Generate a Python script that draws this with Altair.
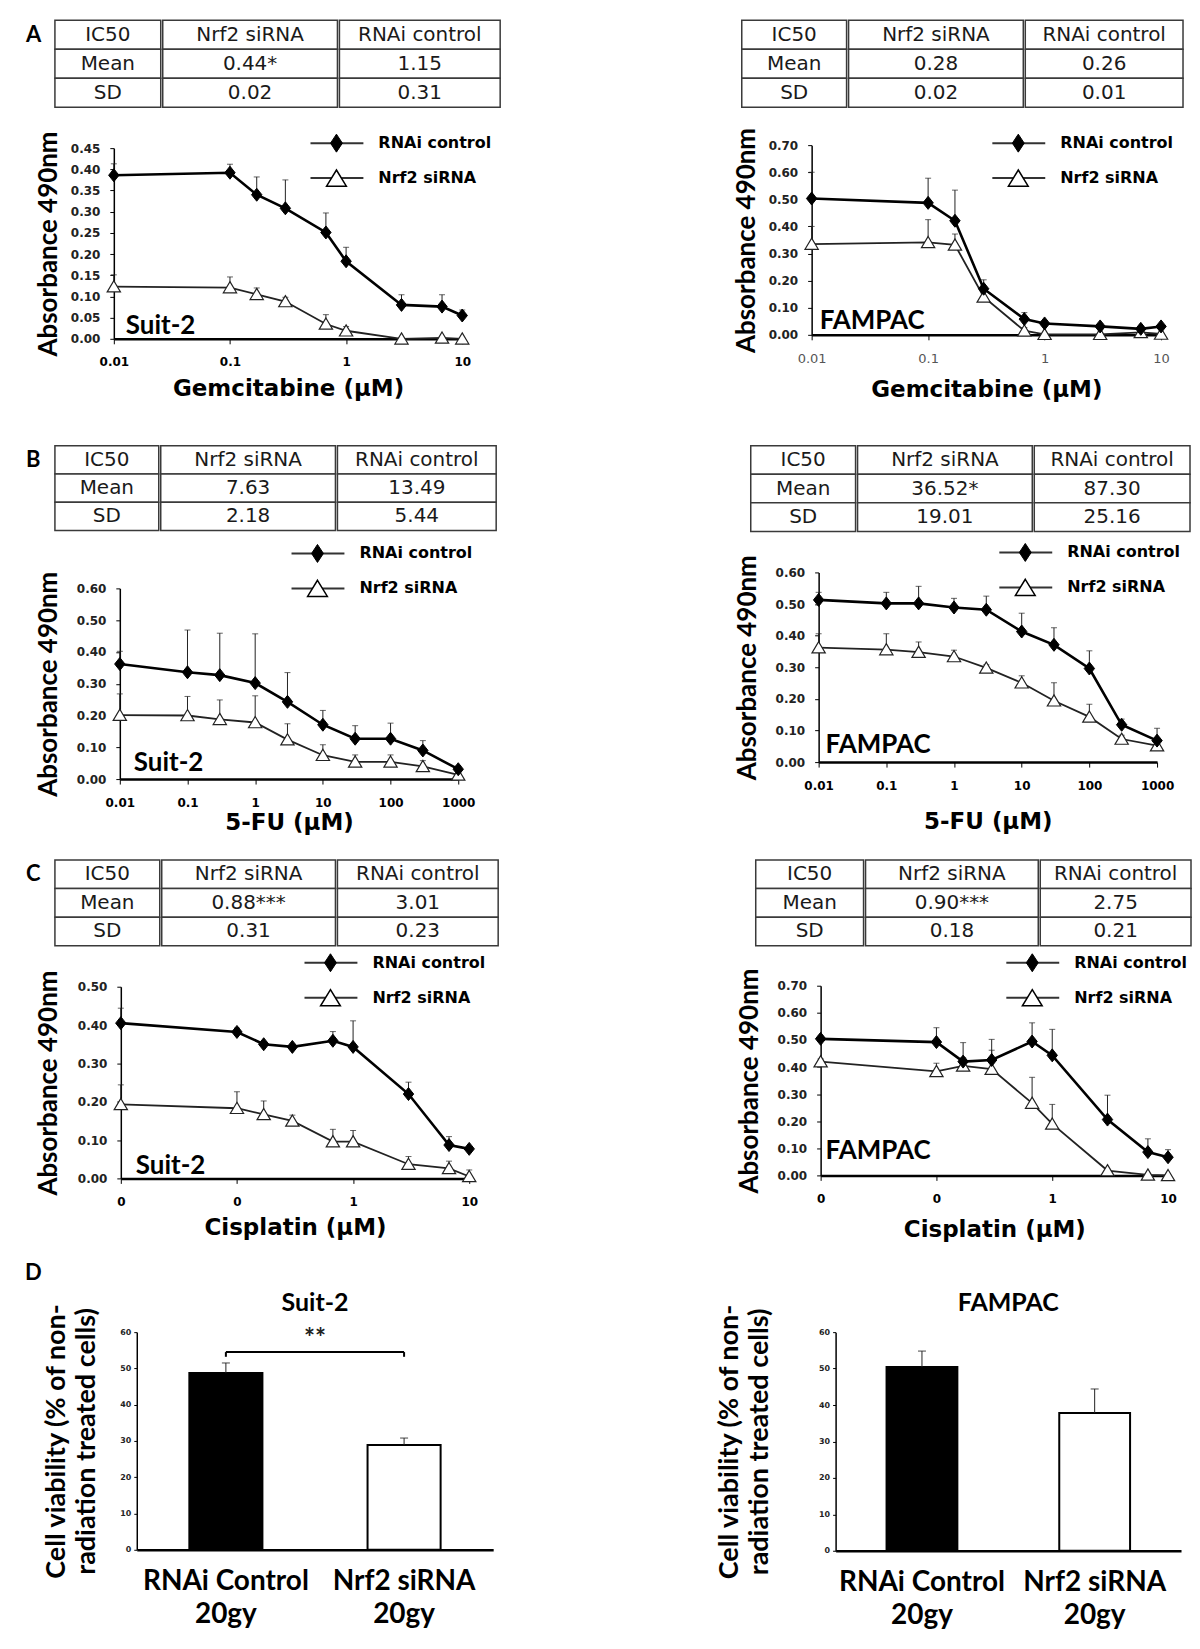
import altair as alt
import pandas as pd

SERIES = ["RNAi control", "Nrf2 siRNA"]
TABLE_HEADER = ["IC50", "Nrf2 siRNA", "RNAi control"]
TABLE_ROWS = ["Mean", "SD"]

# ---------------- doses and tick labels ----------------
gem_doses = [0.01, 0.1, 0.17, 0.3, 0.67, 1, 3, 6.7, 10]
fu_doses = [0.01, 0.1, 0.3, 1, 3, 10, 30, 100, 300, 1000]
cis_doses = [0.01, 0.1, 0.17, 0.3, 0.67, 1, 3, 6.7, 10]
gem_ticks = [0.01, 0.1, 1, 10]
fu_ticks = [0.01, 0.1, 1, 10, 100, 1000]
cis_ticks = [0.01, 0.1, 1, 10]
y_ticks_045 = [0, 0.05, 0.10, 0.15, 0.20, 0.25, 0.30, 0.35, 0.40, 0.45]
y_ticks_070 = [0, 0.10, 0.20, 0.30, 0.40, 0.50, 0.60, 0.70]
y_ticks_060 = [0, 0.10, 0.20, 0.30, 0.40, 0.50, 0.60]
y_ticks_050 = [0, 0.10, 0.20, 0.30, 0.40, 0.50]
bar_ticks = [0, 10, 20, 30, 40, 50, 60]

# ---------------- IC50 tables ----------------
a_suit_ic50_nrf2 = ["0.44*", "0.02"]
a_suit_ic50_rnai = ["1.15", "0.31"]
a_fam_ic50_nrf2 = ["0.28", "0.02"]
a_fam_ic50_rnai = ["0.26", "0.01"]
b_suit_ic50_nrf2 = ["7.63", "2.18"]
b_suit_ic50_rnai = ["13.49", "5.44"]
b_fam_ic50_nrf2 = ["36.52*", "19.01"]
b_fam_ic50_rnai = ["87.30", "25.16"]
c_suit_ic50_nrf2 = ["0.88***", "0.31"]
c_suit_ic50_rnai = ["3.01", "0.23"]
c_fam_ic50_nrf2 = ["0.90***", "0.18"]
c_fam_ic50_rnai = ["2.75", "0.21"]

# ---------------- A: Gemcitabine ----------------
a_suit_rnai = [0.386, 0.392, 0.340, 0.308, 0.251, 0.183, 0.080, 0.076, 0.055]
a_suit_rnai_sd = [0.027, 0.020, 0.042, 0.067, 0.046, 0.033, 0.024, 0.028, 0.013]
a_suit_nrf2 = [0.123, 0.121, 0.105, 0.088, 0.035, 0.019, 0.000, 0.002, 0.000]
a_suit_nrf2_sd = [0.028, 0.025, 0.015, 0.010, 0.022, 0.010, 0.0, 0.0, 0.0]

a_fam_rnai = [0.503, 0.487, 0.421, 0.170, 0.058, 0.042, 0.031, 0.022, 0.031]
a_fam_rnai_sd = [0.097, 0.091, 0.113, 0.033, 0.024, 0.010, 0.011, 0.009, 0.008]
a_fam_nrf2 = [0.335, 0.341, 0.332, 0.140, 0.015, 0.002, 0.002, 0.009, 0.003]
a_fam_nrf2_sd = [0.065, 0.084, 0.040, 0.030, 0.012, 0.0, 0.0, 0.005, 0.0]

# ---------------- B: 5-FU ----------------
b_suit_rnai = [0.362, 0.336, 0.327, 0.302, 0.243, 0.171, 0.127, 0.127, 0.090, 0.031]
b_suit_rnai_sd = [0.040, 0.133, 0.132, 0.155, 0.092, 0.045, 0.041, 0.049, 0.031, 0.010]
b_suit_nrf2 = [0.201, 0.200, 0.188, 0.178, 0.124, 0.075, 0.054, 0.054, 0.040, 0.013]
b_suit_nrf2_sd = [0.067, 0.060, 0.061, 0.084, 0.050, 0.033, 0.022, 0.022, 0.018, 0.010]

b_fam_rnai = [0.513, 0.502, 0.502, 0.489, 0.482, 0.413, 0.371, 0.296, 0.118, 0.068]
b_fam_rnai_sd = [0.024, 0.035, 0.054, 0.029, 0.043, 0.058, 0.054, 0.056, 0.018, 0.039]
b_fam_nrf2 = [0.362, 0.356, 0.348, 0.334, 0.298, 0.251, 0.194, 0.143, 0.073, 0.052]
b_fam_nrf2_sd = [0.044, 0.050, 0.032, 0.020, 0.010, 0.022, 0.057, 0.040, 0.012, 0.012]

# ---------------- C: Cisplatin ----------------
c_suit_rnai = [0.405, 0.382, 0.350, 0.343, 0.359, 0.343, 0.220, 0.087, 0.077]
c_suit_rnai_sd = [0.039, 0.010, 0.007, 0.007, 0.024, 0.068, 0.031, 0.022, 0.006]
c_suit_nrf2 = [0.193, 0.183, 0.167, 0.150, 0.096, 0.096, 0.037, 0.026, 0.005]
c_suit_nrf2_sd = [0.051, 0.043, 0.035, 0.015, 0.032, 0.029, 0.020, 0.019, 0.017]

c_fam_rnai = [0.504, 0.492, 0.420, 0.426, 0.494, 0.443, 0.206, 0.086, 0.067]
c_fam_rnai_sd = [0.010, 0.053, 0.070, 0.076, 0.069, 0.096, 0.090, 0.049, 0.028]
c_fam_nrf2 = [0.420, 0.384, 0.404, 0.392, 0.267, 0.190, 0.018, 0.002, 0.000]
c_fam_nrf2_sd = [0.010, 0.030, 0.030, 0.070, 0.095, 0.072, 0.0, 0.0, 0.0]

# ---------------- D: radiation ----------------
d_suit_cats = ["RNAi Control\n20gy", "Nrf2  siRNA\n20gy"]
d_suit_vals = [48.7, 28.9]
d_suit_sd = [2.8, 1.9]
d_suit_bracket = 54.5
d_suit_bracket_end = 53.2
d_suit_star = 58.0
d_fam_cats = ["RNAi Control\n20gy", "Nrf2 siRNA\n20gy"]
d_fam_vals = [50.4, 37.8]
d_fam_sd = [4.4, 6.6]

BAR_TITLE = ["Cell viability (% of non-", "radiation treated cells)"]

# ---------------- marker shapes ----------------
DIAMOND = "M0,-1L0.8,0L0,1L-0.8,0Z"
TRIANGLE = "M0,-0.85L0.95,0.75L-0.95,0.75Z"
LEG_DIAMOND = "M0,-1L0.66,0L0,1L-0.66,0Z"
LEG_TRIANGLE = "M0,-0.9L1.1,0.9L-1.1,0.9Z"


def H(*charts, spacing=0):
    return alt.hconcat(*charts, spacing=spacing).resolve_scale(
        fill="independent", shape="independent")


def V(*charts, spacing=0):
    return alt.vconcat(*charts, spacing=spacing).resolve_scale(
        fill="independent", shape="independent")


def spacer(w, h=1):
    return alt.Chart(pd.DataFrame({"t": [" "]})).mark_text(fontSize=1).encode(
        text="t:N", x=alt.value(0), y=alt.value(h)
    ).properties(width=w, height=h)


def ic50_table(nrf2_vals, rnai_vals, col_w, height, lead_w, letter=" "):
    row_ids = ["h", "m", "s"]
    yscale = alt.Scale(domain=row_ids, paddingInner=0, paddingOuter=0)
    lead = alt.Chart(pd.DataFrame({"row": ["h"], "t": [letter]})).mark_text(
        align="left", baseline="middle", font="Lato", fontWeight="bold",
        fontSize=22, color="black"
    ).encode(
        y=alt.Y("row:N", scale=yscale, axis=None), x=alt.value(1), text="t:N"
    ).properties(width=lead_w, height=height)
    parts = [lead]
    columns = [
        [TABLE_HEADER[0]] + TABLE_ROWS,
        [TABLE_HEADER[1]] + list(nrf2_vals),
        [TABLE_HEADER[2]] + list(rnai_vals),
    ]
    for texts, w in zip(columns, col_w):
        df = pd.DataFrame({"row": row_ids, "t": texts})
        base = alt.Chart(df).encode(y=alt.Y("row:N", scale=yscale, axis=None))
        cell = base.mark_rect(fill="white", stroke="#3a3a3a", strokeWidth=1.5).encode(
            x=alt.value(0), x2=alt.value(w)
        )
        txt = base.mark_text(
            font="DejaVu Sans", fontSize=20, color="#1a1a1a", baseline="middle"
        ).encode(x=alt.value(w / 2), text="t:N")
        parts.append(alt.layer(cell, txt).properties(width=w, height=height))
    return H(*parts, spacing=0)


def curve(doses, rnai, rnai_sd, nrf2, nrf2_sd, cfg):
    recs = []
    for s, m, sd in ((SERIES[0], rnai, rnai_sd), (SERIES[1], nrf2, nrf2_sd)):
        for d, v, e in zip(doses, m, sd):
            recs.append({"series": s, "dose": d, "mean": v, "sd": e, "top": v + e})
    df = pd.DataFrame(recs)
    w, h = cfg["w"], cfg["h"]
    xscale = alt.Scale(type="log", domain=[doses[0], doses[-1]], nice=False)
    xaxis = alt.Axis(
        values=cfg["xticks"], format=cfg["xfmt"], title=cfg["xtitle"],
        labelFont="DejaVu Sans", labelFontWeight=cfg.get("xlw", "bold"),
        labelFontSize=cfg.get("xls", 12), labelColor=cfg.get("xlc", "black"),
        labelPadding=13, tickSize=5, tickColor="black", domainColor="black",
        domainWidth=2.5, titleFont="DejaVu Sans", titleFontWeight="bold",
        titleFontSize=23, titleColor="black", titlePadding=cfg["xtp"], grid=False,
        labelFlush=False, labelOverlap=False,
    )
    yscale = alt.Scale(domain=[0, cfg["ymax"]], nice=False, zero=True)
    yaxis = alt.Axis(
        values=cfg["yticks"], format=".2f", title="Absorbance 490nm",
        labelFont="DejaVu Sans", labelFontWeight="bold", labelFontSize=12,
        labelColor="#222", labelPadding=10, tickSize=4, tickColor="black",
        domainColor="black", domainWidth=1.5, titleFont="Lato",
        titleFontWeight="bold", titleFontSize=26, titleColor="black",
        titlePadding=cfg["ytp"], grid=False, labelFlush=False,
    )
    X = alt.X("dose:Q", scale=xscale, axis=xaxis)
    Y = alt.Y("mean:Q", scale=yscale, axis=yaxis)
    Ytop = alt.Y("top:Q", scale=yscale, axis=yaxis)
    base = alt.Chart(df)
    errs = base.transform_filter("datum.sd > 0")
    err = errs.mark_rule(color="#222", strokeWidth=1).encode(x=X, y=Y, y2="top:Q")
    cap = errs.mark_tick(orient="horizontal", color="#222", size=6, thickness=1).encode(x=X, y=Ytop)
    line_r = base.transform_filter(alt.datum.series == SERIES[0]).mark_line(
        color="black", strokeWidth=2.6).encode(x=X, y=Y)
    line_n = base.transform_filter(alt.datum.series == SERIES[1]).mark_line(
        color="#222", strokeWidth=1.8).encode(x=X, y=Y)
    pts_r = base.transform_filter(alt.datum.series == SERIES[0]).mark_point(
        shape=DIAMOND, filled=True, fill="black", stroke="black", strokeWidth=1,
        size=169, opacity=1).encode(x=X, y=Y)
    pts_n = base.transform_filter(alt.datum.series == SERIES[1]).mark_point(
        shape=TRIANGLE, filled=True, fill="white", stroke="#222", strokeWidth=1.2,
        size=196, opacity=1).encode(x=X, y=Y)
    main = alt.layer(err, cap, line_n, line_r, pts_n, pts_r)

    # legend drawn as marks: rows placed by a point scale on the series names
    lx, ly = cfg["legx"], cfg["legy"]
    legdf = pd.DataFrame({"series": SERIES})
    LY = alt.Y("series:N", scale=alt.Scale(type="point", domain=SERIES, range=[ly, ly + 35], padding=0), axis=None)
    lbase = alt.Chart(legdf)
    l_line = lbase.mark_rule(color="#333", strokeWidth=2).encode(
        x=alt.value(lx), x2=alt.value(lx + 53), y=LY)
    l_r = lbase.transform_filter(alt.datum.series == SERIES[0]).mark_point(
        shape=LEG_DIAMOND, filled=True, fill="black", stroke="black", strokeWidth=1,
        size=324, opacity=1).encode(x=alt.value(lx + 26), y=LY)
    l_n = lbase.transform_filter(alt.datum.series == SERIES[1]).mark_point(
        shape=LEG_TRIANGLE, filled=True, fill="white", stroke="black", strokeWidth=1.5,
        size=324, opacity=1).encode(x=alt.value(lx + 26), y=LY)
    l_t = lbase.mark_text(
        align="left", baseline="middle", font="DejaVu Sans", fontWeight="bold",
        fontSize=16, color="black").encode(x=alt.value(lx + 68), y=LY, text="series:N")
    legend = alt.layer(l_line, l_r, l_n, l_t)

    lab = alt.Chart(pd.DataFrame({"t": [cfg["cell"]]})).mark_text(
        align="left", baseline="middle", font="Lato", fontWeight="bold",
        fontSize=26, color="black"
    ).encode(text="t:N", x=alt.value(cfg["lx"]), y=alt.value(h - cfg["ly"]))
    return alt.layer(main, legend, lab).resolve_scale(y="independent").properties(
        width=w, height=h)


def bars(cats, vals, sds, cfg, bracket=None):
    df = pd.DataFrame({"cat": cats, "val": vals, "sd": sds})
    df["top"] = df["val"] + df["sd"]
    pin, pout = 0.59, 0.295
    xscale = alt.Scale(domain=cats, paddingInner=pin, paddingOuter=pout)
    xaxis = alt.Axis(
        title=None, labelAngle=0, labelExpr="split(datum.label, '\\n')",
        labelFont="Lato", labelFontWeight="bold", labelFontSize=28,
        labelColor="black", labelLineHeight=33, labelPadding=cfg["xlp"],
        ticks=False, domainColor="black", domainWidth=2.5, labelLimit=300,
    )
    yscale = alt.Scale(domain=[0, 60], nice=False)
    yaxis = alt.Axis(
        values=bar_ticks, format="d", title=BAR_TITLE, labelFont="DejaVu Sans",
        labelFontWeight="bold", labelFontSize=8, labelColor="#222",
        labelPadding=3, tickSize=3, tickColor="black", domainColor="black",
        domainWidth=1.5, titleFont="Lato", titleFontWeight="bold",
        titleFontSize=27, titleLineHeight=30, titleColor="black",
        titlePadding=cfg["ytp"], grid=False,
    )
    X = alt.X("cat:N", sort=None, scale=xscale, axis=xaxis)
    Y = alt.Y("val:Q", scale=yscale, axis=yaxis)
    Ytop = alt.Y("top:Q", scale=yscale, axis=yaxis)
    base = alt.Chart(df)
    bar = base.mark_bar(stroke="black", strokeWidth=2).encode(
        x=X, y=Y,
        fill=alt.Fill("cat:N", scale=alt.Scale(domain=cats, range=["black", "white"]), legend=None),
    )
    err = base.mark_rule(color="#222", strokeWidth=1).encode(x=X, y=Y, y2="top:Q")
    cap = base.mark_tick(orient="horizontal", color="#222", size=8, thickness=1.2).encode(x=X, y=Ytop)
    layers = [bar, err, cap]
    if bracket is not None:
        y_main, y_end, y_star = bracket
        hdf = pd.DataFrame({"cat": [cats[0]], "cat2": [cats[1]], "val": [y_main]})
        vdf = pd.DataFrame({"cat": cats, "val": [y_end, y_end], "val2": [y_main, y_main]})
        sdf = pd.DataFrame({"cat": [cats[0]], "val": [y_star], "t": ["**"]})
        step = cfg["w"] / (len(cats) - pin + 2 * pout)
        layers.append(alt.Chart(hdf).mark_rule(color="black", strokeWidth=2).encode(
            x=X, x2="cat2:N", y=Y))
        layers.append(alt.Chart(vdf).mark_rule(color="black", strokeWidth=2).encode(
            x=X, y=Y, y2="val2:Q"))
        layers.append(alt.Chart(sdf).mark_text(
            font="Lato", fontWeight="bold", fontSize=26, color="#222",
            baseline="middle", dx=step / 2).encode(x=X, y=Y, text="t:N"))
    return alt.layer(*layers).properties(
        width=cfg["w"], height=cfg["h"],
        title=alt.TitleParams(cfg["title"], font="Lato", fontSize=25, fontWeight="bold",
                              anchor="middle", frame="group", offset=cfg["toff"], color="black"),
    )


# ---------------- panels ----------------
pA_left = curve(gem_doses, a_suit_rnai, a_suit_rnai_sd, a_suit_nrf2, a_suit_nrf2_sd, dict(
    w=349, h=191, ymax=0.45, yticks=y_ticks_045, xticks=gem_ticks, xfmt="~g",
    xtitle="Gemcitabine (\u03bcM)", ytp=9, xtp=10, legx=197, legy=-5,
    cell="Suit-2", lx=12, ly=13))
pA_right = curve(gem_doses, a_fam_rnai, a_fam_rnai_sd, a_fam_nrf2, a_fam_nrf2_sd, dict(
    w=350, h=190, ymax=0.70, yticks=y_ticks_070, xticks=gem_ticks, xfmt="~g",
    xtitle="Gemcitabine (\u03bcM)", ytp=9, xtp=13, legx=181, legy=-2,
    cell="FAMPAC", lx=8, ly=14, xlw="normal", xlc="#555", xls=13))
pB_left = curve(fu_doses, b_suit_rnai, b_suit_rnai_sd, b_suit_nrf2, b_suit_nrf2_sd, dict(
    w=339, h=191, ymax=0.60, yticks=y_ticks_060, xticks=fu_ticks, xfmt="~g",
    xtitle="5-FU (\u03bcM)", ytp=15, xtp=4, legx=172, legy=-35,
    cell="Suit-2", lx=14, ly=16))
pB_right = curve(fu_doses, b_fam_rnai, b_fam_rnai_sd, b_fam_nrf2, b_fam_nrf2_sd, dict(
    w=339, h=190, ymax=0.60, yticks=y_ticks_060, xticks=fu_ticks, xfmt="~g",
    xtitle="5-FU (\u03bcM)", ytp=15, xtp=20, legx=181, legy=-20,
    cell="FAMPAC", lx=7, ly=17))
pC_left = curve(cis_doses, c_suit_rnai, c_suit_rnai_sd, c_suit_nrf2, c_suit_nrf2_sd, dict(
    w=349, h=192, ymax=0.50, yticks=y_ticks_050, xticks=cis_ticks, xfmt=".0f",
    xtitle="Cisplatin (\u03bcM)", ytp=16, xtp=9, legx=184, legy=-24,
    cell="Suit-2", lx=15, ly=12))
pC_right = curve(cis_doses, c_fam_rnai, c_fam_rnai_sd, c_fam_nrf2, c_fam_nrf2_sd, dict(
    w=348, h=190, ymax=0.70, yticks=y_ticks_070, xticks=cis_ticks, xfmt=".0f",
    xtitle="Cisplatin (\u03bcM)", ytp=15, xtp=14, legx=186, legy=-23,
    cell="FAMPAC", lx=5, ly=24))

tA_left = ic50_table(a_suit_ic50_nrf2, a_suit_ic50_rnai, [106, 175, 161], 87, 29, "A")
tA_right = ic50_table(a_fam_ic50_nrf2, a_fam_ic50_rnai, [105, 175, 158], 87, 9)
tB_left = ic50_table(b_suit_ic50_nrf2, b_suit_ic50_rnai, [104, 175, 159], 85, 29, "B")
tB_right = ic50_table(b_fam_ic50_nrf2, b_fam_ic50_rnai, [105, 175, 156], 86, 17)
tC_left = ic50_table(c_suit_ic50_nrf2, c_suit_ic50_rnai, [105, 174, 161], 86, 29, "C")
tC_right = ic50_table(c_fam_ic50_nrf2, c_fam_ic50_rnai, [108, 173, 151], 86, 20)

dL = bars(d_suit_cats, d_suit_vals, d_suit_sd, dict(w=357, h=218, ytp=19, xlp=18, title="Suit-2", toff=-13),
          bracket=(d_suit_bracket, d_suit_bracket_end, d_suit_star))
dR = bars(d_fam_cats, d_fam_vals, d_fam_sd, dict(w=346, h=219, ytp=45, xlp=18, title="FAMPAC", toff=-13))

letterD = alt.Chart(pd.DataFrame({"t": ["D"]})).mark_text(
    align="left", baseline="middle", font="Lato", fontWeight="bold", fontSize=22, color="black"
).encode(text="t:N", x=alt.value(0), y=alt.value(11)).properties(width=20, height=22)

rowA = H(
    V(tA_left, H(spacer(10), pA_left, spacing=0), spacing=22),
    V(tA_right, H(spacer(1), pA_right, spacing=0), spacing=19),
    spacing=231,
)
rowB = H(
    V(tB_left, H(spacer(10), pB_left, spacing=0), spacing=11),
    V(tB_right, H(spacer(1), pB_right, spacing=0), spacing=9),
    spacing=236,
)
rowC = H(
    V(tC_left, H(spacer(10), pC_left, spacing=0), spacing=5),
    V(tC_right, H(spacer(1), pC_right, spacing=0), spacing=5),
    spacing=236,
)
rowD = V(
    letterD,
    H(H(spacer(17), dL, spacing=0), H(spacer(1), dR, spacing=0), spacing=221),
    spacing=6,
)

chart = V(
    rowA,
    V(rowB, V(rowC, rowD, spacing=21), spacing=24),
    spacing=43,
).properties(
    padding={"left": 17, "top": 10, "right": 0, "bottom": 0},
    background="white",
).configure_view(stroke=None)

chart.save("out.html", embed_options={"renderer": "svg", "actions": False})
